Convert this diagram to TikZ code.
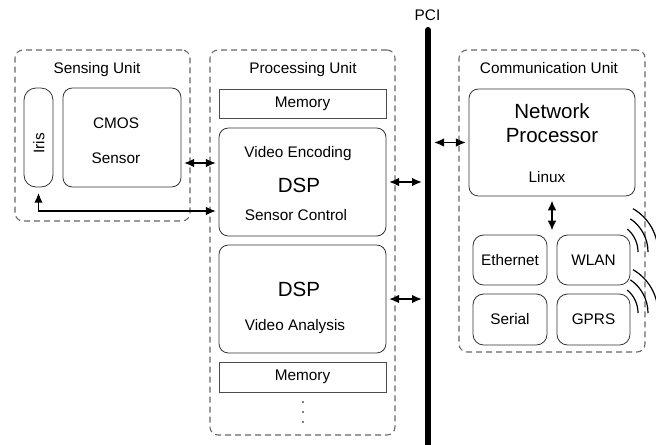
\documentclass[tikz,border=0pt]{standalone}
\usepackage{fontspec}
\setmainfont{Liberation Sans}
\usetikzlibrary{arrows.meta,fit,calc}

\begin{document}
\begin{tikzpicture}[x=0.75pt,y=-0.75pt,>={Latex[length=7.5pt,width=6.5pt]},font=\fontsize{11.5}{14}\selectfont]
  \tikzstyle{unit}=[draw=black!60,line width=0.8pt,dash pattern=on 4.5pt off 3pt,rounded corners=6pt,inner sep=0pt]
  \tikzstyle{block}=[draw=black!80,line width=0.6pt,rounded corners=7pt,inner sep=0pt]
  \tikzstyle{memory}=[draw=black!70,line width=0.6pt,inner sep=0pt]
  \tikzstyle{big}=[font=\fontsize{15.4}{18}\selectfont]
  \tikzstyle{link}=[<->,line width=1.3pt,shorten <=2pt,shorten >=2pt]
  \tikzstyle{wave}=[line width=0.9pt]

  \useasboundingbox (0,0) rectangle (656,444);

  % units
  \node[unit,fit={(15,50) (190,221)}]   (sensing) {};
  \node[unit,fit={(210,50) (395,435)}]  (processing) {};
  \node[unit,fit={(459,50) (645,352)}]  (communication) {};
  \node[anchor=base] at (97,73)  {Sensing Unit};
  \node[anchor=base] at (303,73) {Processing Unit};
  \node[anchor=base] at (549,73) {Communication Unit};

  % sensing unit
  \node[block,rounded corners=9pt,fit={(24,88) (53,187)}] (iris) {};
  \node[rotate=90] at (39,143.5) {Iris};
  \node[block,fit={(63,88) (181,187)}]  (cmos) {};
  \node[anchor=base] at (116,128) {CMOS};
  \node[anchor=base] at (116,163) {Sensor};

  % processing unit
  \node[memory,fit={(219,89) (386,118)},label=center:Memory]  (mema) {};
  \node[block,fit={(219,128) (386,236)}]  (dspa) {};
  \node[anchor=base]     at (298,157) {Video Encoding};
  \node[anchor=base,big] at (299,192) {DSP};
  \node[anchor=base]     at (296,220) {Sensor Control};
  \node[block,fit={(219,245) (386,353)}]  (dspb) {};
  \node[anchor=base,big] at (299,296) {DSP};
  \node[anchor=base]     at (295,330) {Video Analysis};
  \node[memory,fit={(219,362) (386,392)},label=center:Memory] (memb) {};
  \foreach \y in {402,412,422}
    \fill (303,\y) circle (0.7pt);

  % communication unit
  \node[block,fit={(469,89) (635,196)}]  (np) {};
  \node[anchor=base,big] at (552,118) {Network};
  \node[anchor=base,big] at (552,142) {Processor};
  \node[anchor=base]     at (547,182) {Linux};
  \node[block,rounded corners=8pt,fit={(473,235) (547,285)},label=center:Ethernet] (eth)    {};
  \node[block,rounded corners=8pt,fit={(557,235) (630,285)},label=center:WLAN]     (wlan)   {};
  \node[block,rounded corners=8pt,fit={(473,294) (547,345)},label=center:Serial]   (serial) {};
  \node[block,rounded corners=8pt,fit={(557,294) (630,345)},label=center:GPRS]     (gprs)   {};

  % bus
  \coordinate (pcitop) at (428,30);
  \coordinate (pcibot) at (428,450);
  \draw[line width=4.6pt,line cap=round] (pcitop) -- (pcibot);
  \node[anchor=base] at (427.5,20) {PCI};

  % links
  \coordinate (cmosout) at ($(cmos.east)+(0,25.5)$);
  \coordinate (irisin)  at ($(dspa.west)+(0,29)$);
  \draw[link]                   (cmosout) -- (cmosout -| dspa.west);
  \draw[link,shorten <=4pt]     (iris.south) |- (irisin);
  \draw[link,shorten >=4.5pt]   (dspa.east) -- (dspa.east -| pcitop);
  \draw[link,shorten >=4.5pt]   (dspb.east) -- (dspb.east -| pcitop);
  \draw[link,shorten <=4.5pt]   (np.west -| pcitop) -- (np.west);
  \draw[link,shorten <=3pt,shorten >=3pt] (np.south) -- (np.south |- wlan.north);

  % radio waves
  \coordinate (wavea) at (608,252);
  \coordinate (waveb) at (608,313);
  \foreach \r/\a in {22.5pt/50,30pt/56,37.5pt/60}{
    \draw[wave] (wavea) ++(\a:\r) arc[start angle=\a,end angle=0,radius=\r];
    \draw[wave] (waveb) ++(\a:\r) arc[start angle=\a,end angle=0,radius=\r];
  }
\end{tikzpicture}
\end{document}
